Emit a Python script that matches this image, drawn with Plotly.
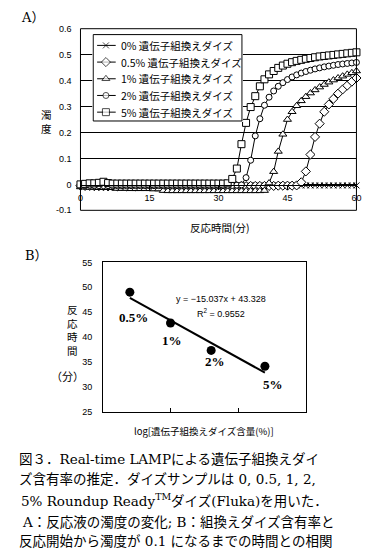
import numpy as np
import plotly.graph_objects as go

# Page body has an 8px default margin; the figure is sized/placed to compensate.
W, H = 382, 554
OFF = 8
FW, FH = W - OFF, H - OFF

# ---------------- Data: chart A (turbidity vs reaction time) ----------------
time_min = list(range(0, 61))

turb_0 = [-0.004, -0.004, -0.005, -0.005, -0.006, -0.005, -0.006, -0.006, -0.005, -0.006,
          -0.006, -0.005, -0.006, -0.006, -0.005, -0.006, -0.006, -0.005, -0.006, -0.006,
          -0.005, -0.006, -0.006, -0.005, -0.006, -0.005, -0.006, -0.005, -0.005, -0.006,
          -0.005, -0.005, -0.006, -0.005, -0.005, -0.005, -0.005, -0.004, -0.005, -0.004,
          -0.005, -0.004, -0.005, -0.004, -0.004, -0.005, -0.004, -0.004, -0.004, -0.004,
          -0.004, -0.004, -0.004, -0.004, -0.004, -0.004, -0.004, -0.004, -0.004, -0.004,
          -0.004]

turb_05 = [-0.005, -0.006, -0.006, -0.007, -0.007, -0.007, -0.008, -0.008, -0.008, -0.008,
           -0.008, -0.008, -0.008, -0.008, -0.008, -0.008, -0.008, -0.008, -0.008, -0.008,
           -0.008, -0.008, -0.008, -0.008, -0.008, -0.008, -0.008, -0.008, -0.008, -0.008,
           -0.008, -0.008, -0.008, -0.007, -0.007, -0.007, -0.007, -0.006, -0.006, -0.006,
           -0.006, -0.006, -0.006, -0.005, -0.005, -0.005, -0.005, -0.004, 0.008, 0.050,
           0.115, 0.183, 0.234, 0.280, 0.308, 0.330, 0.350, 0.366, 0.381, 0.396,
           0.410]

turb_1 = [-0.010, -0.011, -0.012, -0.012, -0.013, -0.013, -0.013, -0.013, -0.016, -0.016,
          -0.016, -0.017, -0.017, -0.017, -0.017, -0.017, -0.018, -0.018, -0.024, -0.025,
          -0.025, -0.025, -0.025, -0.025, -0.025, -0.025, -0.025, -0.025, -0.025, -0.025,
          -0.025, -0.025, -0.025, -0.025, -0.025, -0.025, -0.025, -0.025, -0.025, -0.025,
          -0.024, 0.005, 0.049, 0.127, 0.193, 0.250, 0.280, 0.303, 0.322, 0.338,
          0.352, 0.364, 0.375, 0.385, 0.394, 0.402, 0.410, 0.417, 0.424, 0.430,
          0.437]

turb_2 = [-0.003, -0.004, -0.004, -0.005, -0.005, -0.005, -0.005, -0.005, -0.005, -0.005,
          -0.005, -0.005, -0.005, -0.005, -0.005, -0.005, -0.005, -0.005, -0.005, -0.005,
          -0.005, -0.005, -0.005, -0.005, -0.005, -0.005, -0.005, -0.005, -0.005, -0.005,
          -0.005, -0.005, -0.004, -0.004, -0.003, -0.002, 0.026, 0.093, 0.187, 0.253,
          0.305, 0.336, 0.360, 0.378, 0.392, 0.404, 0.414, 0.422, 0.429, 0.435,
          0.440, 0.445, 0.449, 0.453, 0.456, 0.459, 0.462, 0.464, 0.466, 0.468,
          0.470]

turb_5 = [0.000, 0.002, 0.004, 0.004, 0.006, 0.010, 0.005, 0.003, 0.003, 0.003,
          0.003, 0.003, 0.003, 0.003, 0.003, 0.003, 0.003, 0.003, 0.003, 0.003,
          0.003, 0.003, 0.003, 0.003, 0.003, 0.003, 0.003, 0.003, 0.003, 0.003,
          0.003, 0.003, 0.004, 0.021, 0.061, 0.155, 0.237, 0.298, 0.340, 0.378,
          0.405, 0.424, 0.437, 0.449, 0.458, 0.465, 0.471, 0.476, 0.480, 0.484,
          0.487, 0.490, 0.493, 0.495, 0.497, 0.499, 0.501, 0.503, 0.505, 0.507,
          0.509]

series_names = ["0% 遺伝子組換えダイズ", "0.5% 遺伝子組換えダイズ", "1% 遺伝子組換えダイズ",
                "2% 遺伝子組換えダイズ", "5% 遺伝子組換えダイズ"]
series_values = [turb_0, turb_05, turb_1, turb_2, turb_5]
series_symbols = ["x-thin", "diamond", "triangle-up", "circle", "square"]
series_sizes = [6, 7, 7, 6, 7]

ytick_A = [-0.1, 0, 0.1, 0.2, 0.3, 0.4, 0.5, 0.6]
xtick_A = [0, 15, 30, 45, 60]

# ---------------- Data: chart B (reaction time vs log GM content) ----------------
gm_percent = [0.5, 1, 2, 5]
gm_labels = ["0.5%", "1%", "2%", "5%"]
reaction_time = [49.0, 42.8, 37.3, 34.1]
fit_slope = -15.037
fit_intercept = 43.328
fit_r2 = 0.9552
ytick_B = [25, 30, 35, 40, 45, 50, 55]

caption_lines = [
    "図３．Real-time LAMPによる遺伝子組換えダイ",
    "ズ含有率の推定．ダイズサンプルは 0, 0.5, 1, 2,",
    "5% Roundup Ready<sup>TM</sup>ダイズ(Fluka)を用いた．",
    "A：反応液の濁度の変化; B：組換えダイズ含有率と",
    "反応開始から濁度が 0.1 になるまでの時間との相関",
]


def fx(px):
    return (px - OFF) / FW


def fy(py):
    return 1 - (py - OFF) / FH


TICKFONT = dict(family="Liberation Sans, Arial, sans-serif", size=9, color="black")
JPFONT = "Noto Sans CJK JP"
CAPFONT = "DejaVu Serif, Noto Sans CJK JP"

fig = go.Figure()

# Chart A curves
for name, vals, sym, sz in zip(series_names, series_values, series_symbols, series_sizes):
    fig.add_trace(go.Scatter(
        x=time_min, y=vals, mode="lines+markers", name=name,
        line=dict(color="black", width=1),
        marker=dict(symbol=sym, size=sz, color="white",
                    line=dict(color="black", width=1)),
        xaxis="x", yaxis="y", showlegend=False, cliponaxis=False,
    ))

# Custom legend for chart A (own small axes, 1 unit = 1 px)
fig.add_trace(go.Scatter(
    x=[0, 152, 152, 0, 0], y=[0, 0, 88, 88, 0], mode="lines", fill="toself",
    fillcolor="white", line=dict(color="black", width=1),
    xaxis="x3", yaxis="y3", showlegend=False, hoverinfo="skip",
))
row_y = [11, 28, 45, 62, 79]
for name, sym, sz, ry in zip(series_names, series_symbols, series_sizes, row_y):
    fig.add_trace(go.Scatter(
        x=[4, 13, 23], y=[ry, ry, ry], mode="lines+markers",
        line=dict(color="black", width=1),
        marker=dict(symbol=sym, size=[0, sz, 0], color="white",
                    line=dict(color="black", width=1)),
        xaxis="x3", yaxis="y3", showlegend=False, hoverinfo="skip",
    ))

# Chart B points
x_log = np.log10(gm_percent)
fig.add_trace(go.Scatter(
    x=x_log, y=reaction_time, mode="markers",
    marker=dict(symbol="circle", size=9, color="black"),
    xaxis="x2", yaxis="y2", showlegend=False,
))
# regression line
x_fit = np.array([x_log.min(), x_log.max()])
fig.add_trace(go.Scatter(
    x=x_fit, y=fit_slope * x_fit + fit_intercept, mode="lines",
    line=dict(color="black", width=2),
    xaxis="x2", yaxis="y2", showlegend=False,
))

annotations = []
# point labels
label_shift = [(4, -25), (1, -17), (4, -11), (8, -18)]
for xv, yv, lab, (dx, dy) in zip(x_log, reaction_time, gm_labels, label_shift):
    annotations.append(dict(
        x=xv, y=yv, xref="x2", yref="y2", text=f"<b>{lab}</b>", showarrow=False,
        xshift=dx, yshift=dy,
        font=dict(family="Liberation Serif, Times New Roman, serif", size=13, color="black"),
        xanchor="center", yanchor="middle",
    ))
annotations.append(dict(
    x=0.372, y=47.6, xref="x2", yref="y2", showarrow=False,
    text=f"y = −{abs(fit_slope):.3f}x + {fit_intercept:.3f}",
    font=dict(family="Liberation Sans, Arial, sans-serif", size=9, color="black"),
))
annotations.append(dict(
    x=0.372, y=44.85, xref="x2", yref="y2", showarrow=False,
    text=f"R<sup>2</sup> = {fit_r2:.4f}",
    font=dict(family="Liberation Sans, Arial, sans-serif", size=9, color="black"),
))

# legend texts
for name, ry in zip(series_names, row_y):
    annotations.append(dict(
        x=26, y=ry, xref="x3", yref="y3", text=name, showarrow=False,
        xanchor="left", yanchor="middle",
        font=dict(family=JPFONT, size=10.5, color="black"),
    ))


def ptext(text, x, y, size, family=JPFONT, xanchor="center"):
    annotations.append(dict(
        x=fx(x), y=fy(y), xref="paper", yref="paper", text=text, showarrow=False,
        xanchor=xanchor, yanchor="middle", font=dict(family=family, size=size, color="black"),
        borderpad=0,
    ))


ptext("A）", 30, 13, 13, family="DejaVu Serif, Noto Sans CJK JP")
ptext("B）", 34, 255, 13, family="DejaVu Serif, Noto Sans CJK JP")
ptext("濁<br>度", 44, 119, 10.5)
ptext("反応時間(分)", 222, 227, 10.5)
ptext("反<br>応<br>時<br>間", 71, 331, 10.5)
ptext("（分）", 66, 378, 11)
ptext("log[遺伝子組換えダイズ含量(%)]", 205, 434, 9.5)

cap_y = [462, 483, 504, 526, 546]
cap_x = [15, 15, 17, 18, 15]
for line, yy, xx in zip(caption_lines, cap_y, cap_x):
    ptext(line, xx, yy, 13.5, family=CAPFONT, xanchor="left")

shapes = [
    dict(type="rect", xref="x domain", yref="y domain", x0=0, x1=1, y0=0, y1=1,
         line=dict(color="black", width=1), layer="above"),
]

fig.update_layout(
    width=FW, height=FH, margin=dict(l=0, r=0, t=0, b=0),
    paper_bgcolor="white", plot_bgcolor="white",
    showlegend=False,
    xaxis=dict(domain=[fx(79), fx(361)], range=[0, 60], tickvals=xtick_A,
               anchor="free", position=fy(183), showline=True, linecolor="black", linewidth=1,
               ticks="outside", ticklen=4, tickcolor="black", showgrid=False, zeroline=False,
               tickfont=TICKFONT),
    yaxis=dict(domain=[fy(209), fy(24)], range=[-0.1, 0.6], tickvals=ytick_A,
               ticktext=[f"{v:g}" for v in ytick_A], anchor="x",
               showgrid=True, gridcolor="black", gridwidth=1, zeroline=False,
               showline=False, ticks="", ticklabelstandoff=8, tickfont=TICKFONT),
    xaxis2=dict(domain=[fx(102), fx(309)], range=[-0.5, 1.0], tickvals=[-0.5, 0, 0.5, 1.0],
                anchor="y2", showline=True, mirror=True, linecolor="black", linewidth=1,
                ticks="inside", ticklen=4, tickcolor="black", showticklabels=False,
                showgrid=False, zeroline=False),
    yaxis2=dict(domain=[fy(414), fy(262)], range=[25, 55], tickvals=ytick_B, anchor="x2",
                showline=True, mirror=True, linecolor="black", linewidth=1,
                ticks="", ticklabelstandoff=8, showgrid=False, zeroline=False,
                tickfont=TICKFONT),
    xaxis3=dict(domain=[fx(91), fx(245)], range=[-1, 153], visible=False, anchor="y3"),
    yaxis3=dict(domain=[fy(119), fy(29)], range=[89, -1], visible=False, anchor="x3"),
    annotations=annotations,
    shapes=shapes,
)

fig.write_html("out.html")
